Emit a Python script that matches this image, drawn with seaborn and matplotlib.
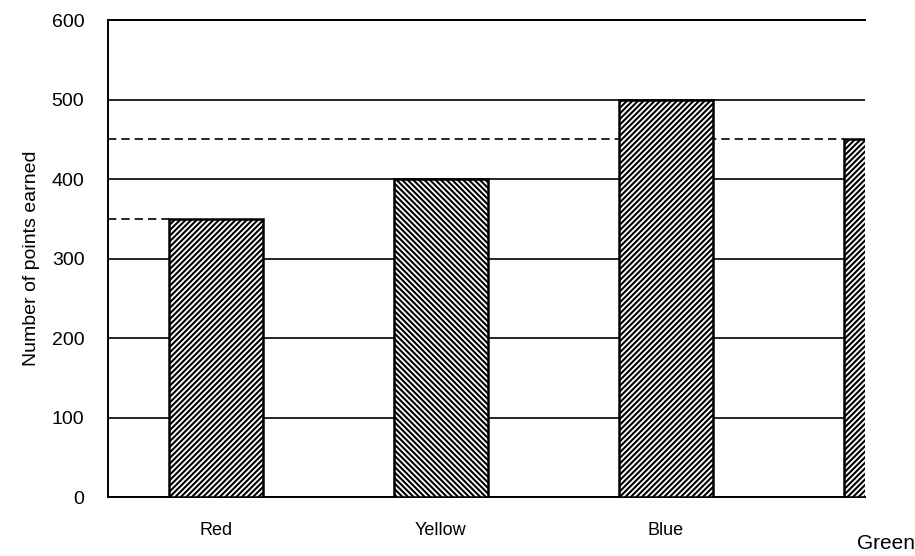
import seaborn as sns
import matplotlib.pyplot as plt
import pandas as pd
import numpy as np

# team points
teams = ["Red", "Yellow", "Blue", "Green"]
points = [350, 400, 500, 450]
hatches = ["//////", "\\\\\\\\\\\\", "//////", "//////"]
ticks = [0, 100, 200, 300, 400, 500, 600]

df = pd.DataFrame({"team": teams, "points": points})

sns.set_style("white")
plt.rcParams["font.family"] = ["Liberation Sans", "DejaVu Sans"]
plt.rcParams["hatch.linewidth"] = 1.5
plt.rcParams["text.color"] = "black"
plt.rcParams["axes.labelcolor"] = "black"
plt.rcParams["xtick.color"] = "black"
plt.rcParams["ytick.color"] = "black"

fig = plt.figure(figsize=(9.15, 5.56), dpi=100)
ax = fig.add_axes([0.118, 0.106, 0.827, 0.858])

w = 0.42
sns.barplot(data=df, x="team", y="points", color="white", width=w,
            edgecolor="black", linewidth=1.8, ax=ax, zorder=3)
for bar, h in zip(ax.patches, hatches):
    bar.set_hatch(h)

ax.set_xlim(-0.48, 2.884)
ax.set_ylim(0, 600)
ax.set_yticks(ticks)
ax.set_yticklabels([str(t) for t in ticks], fontsize=14)
ax.yaxis.grid(True, color="black", linewidth=1.2)
ax.set_axisbelow(True)
ax.tick_params(axis="both", length=0)
ax.tick_params(axis="y", pad=17)

# dashed guide lines for Red and Green
ax.hlines(points[0], -0.48, 0 - w / 2, colors="black", linestyles=(0, (5, 3)), linewidth=1.2)
ax.hlines(points[3], -0.48, 3 - w / 2, colors="black", linestyles=(0, (5, 3)), linewidth=1.2, zorder=2)

ax.set_xticks([0, 1, 2])
ax.set_xticklabels(teams[:3], fontsize=13)
ax.tick_params(axis="x", pad=18)
ax.text(2.98, -0.078, teams[3], transform=ax.get_xaxis_transform(), fontsize=15,
        ha="center", va="top", clip_on=False)

ax.set_xlabel("")
ax.set_ylabel("Number of points earned", fontsize=14, labelpad=8)

ax.spines["right"].set_visible(False)
for s in ["left", "bottom", "top"]:
    ax.spines[s].set_color("black")
    ax.spines[s].set_linewidth(1.4)

fig.savefig("out.png", dpi=100)
